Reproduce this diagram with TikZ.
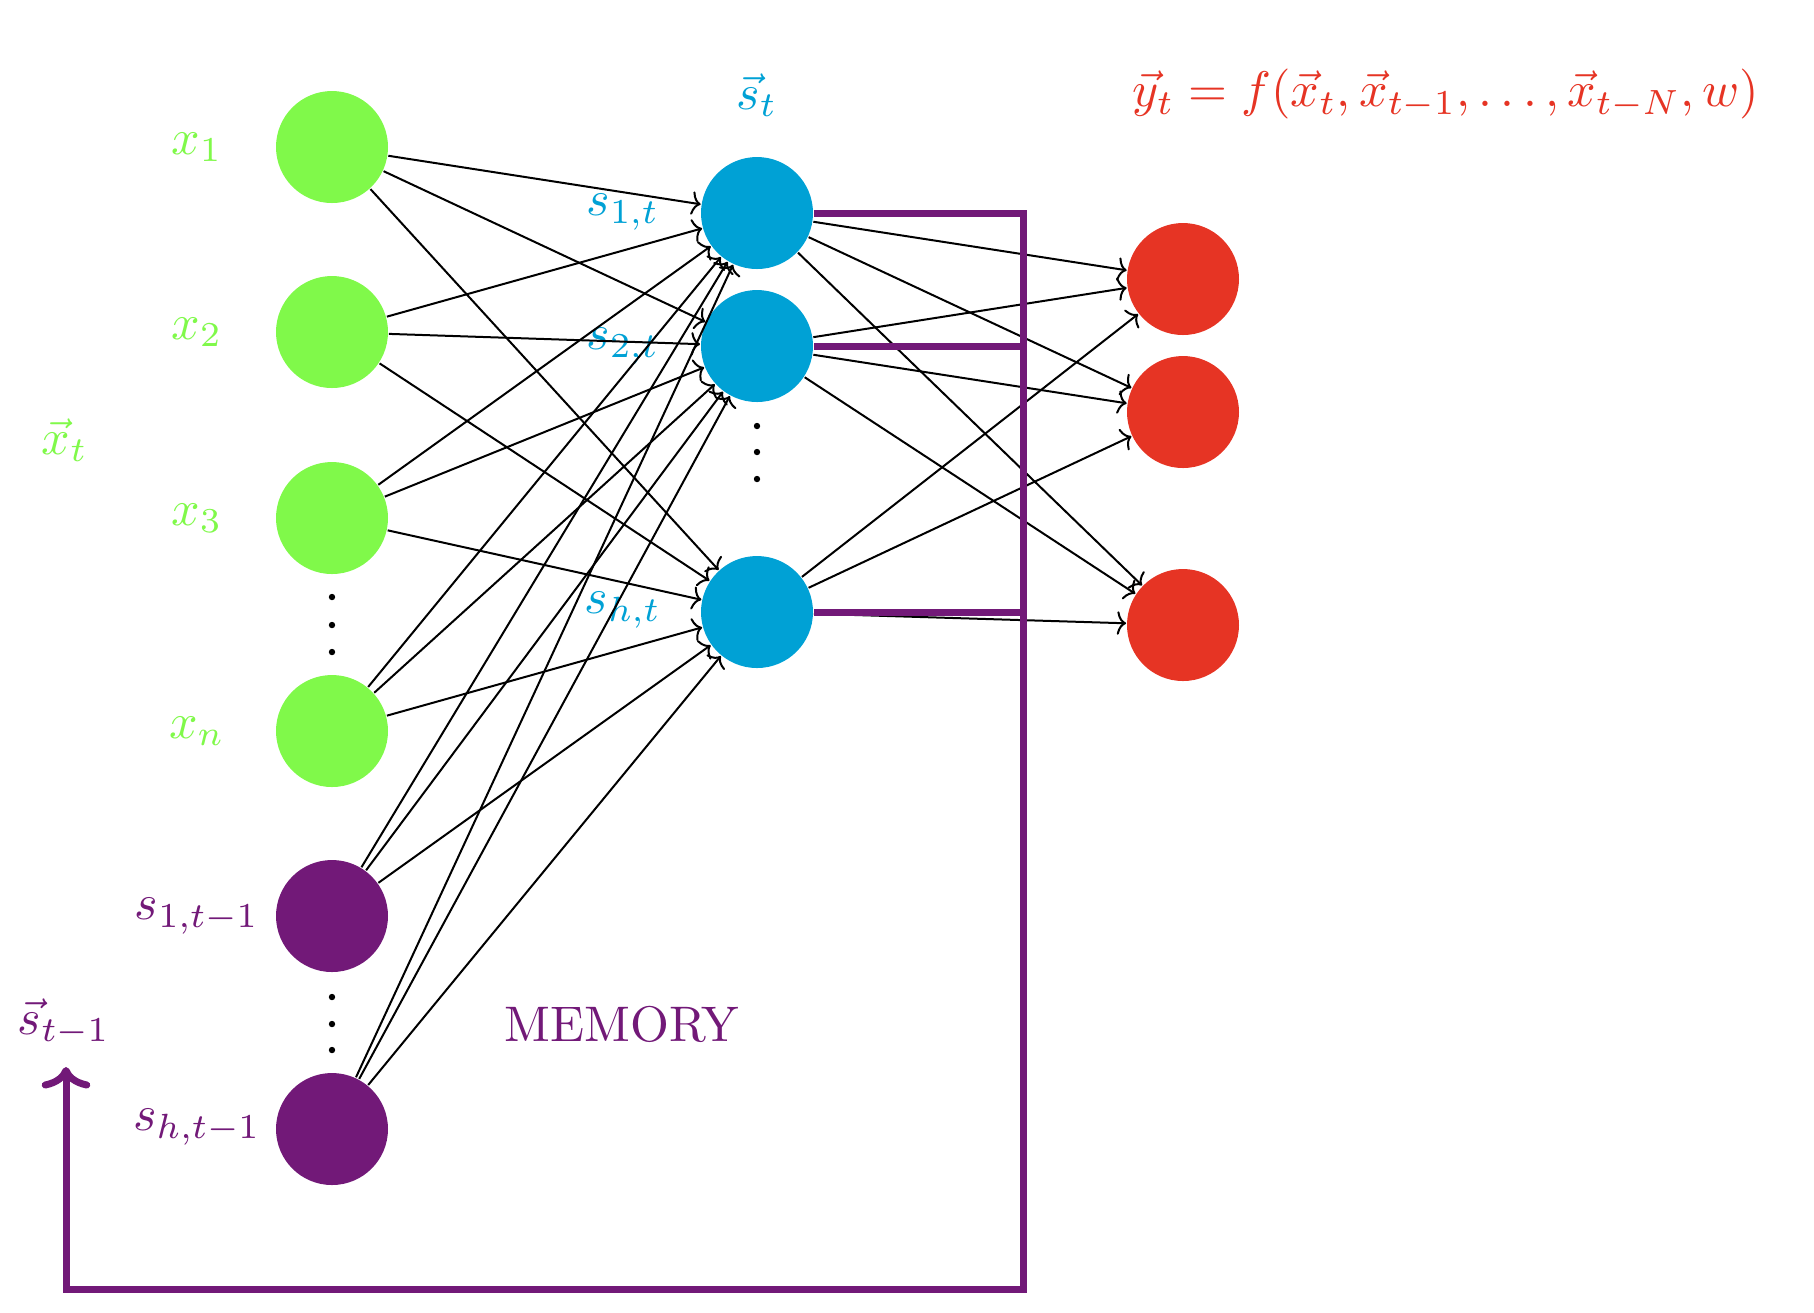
\documentclass[tikz,border=0pt]{standalone}
\usetikzlibrary{arrows.meta}
\definecolor{ingreen}{RGB}{128,249,74}
\definecolor{hidblue}{RGB}{0,161,213}
\definecolor{outred}{RGB}{230,52,36}
\definecolor{mempurple}{RGB}{114,25,120}
\begin{document}
\begin{tikzpicture}[x=0.2pt,y=-0.2pt,
  neuron/.style={circle,minimum size=22.4pt,inner sep=0pt,draw=none},
  inp/.style={neuron,fill=ingreen},
  hid/.style={neuron,fill=hidblue},
  outn/.style={neuron,fill=outred},
  memn/.style={neuron,fill=mempurple},
  conn/.style={-{Computer Modern Rightarrow[length=1.8pt,width=4.7pt]},line width=0.4pt,black},
  loopline/.style={line width=1.4pt,mempurple},
  lab/.style={inner sep=0pt}
]
\useasboundingbox (0,0) rectangle (1814,1312);

% neurons
\node[inp] (x1) at (332,147) {};
\node[inp] (x2) at (332,332) {};
\node[inp] (x3) at (332,518) {};
\node[inp] (xn) at (332,731) {};
\node[memn] (m1) at (332,916) {};
\node[memn] (mh) at (332,1129) {};
\node[hid] (s1) at (757,213) {};
\node[hid] (s2) at (757,346) {};
\node[hid] (sh) at (757,612) {};
\node[outn] (y1) at (1183,279) {};
\node[outn] (y2) at (1183,412) {};
\node[outn] (y3) at (1183,625) {};

% dots
\foreach \yy in {597,625,652} \fill (332,\yy) circle[radius=3.2];
\foreach \yy in {997,1024,1050} \fill (332,\yy) circle[radius=3.2];
\foreach \yy in {426,452,479} \fill (757,\yy) circle[radius=3.2];

% labels
\node[lab,text=ingreen] (lx1) at (197,147) {$x_1$};
\node[lab,text=ingreen] (lx2) at (197,332) {$x_2$};
\node[lab,text=ingreen] (lx3) at (197,518) {$x_3$};
\node[lab,text=ingreen] (lxn) at (197,731) {$x_n$};
\node[lab,text=ingreen] (lxt) at (65,440) {$\vec{x}_t$};
\node[lab,text=mempurple] (lm1) at (197,916) {$s_{1,t-1}$};
\node[lab,text=mempurple] (lmh) at (197,1127) {$s_{h,t-1}$};
\node[lab,text=mempurple] (lst1) at (64,1022) {$\vec{s}_{t-1}$};
\node[lab,text=hidblue] (lst) at (757,95) {$\vec{s}_t$};
\node[lab,text=hidblue] (ls1) at (623,212) {$s_{1,t}$};
\node[lab,text=hidblue] (ls2) at (623,346) {$s_{2,t}$};
\node[lab,text=hidblue] (lsh) at (623,610) {$s_{h,t}$};
\node[lab,text=mempurple] (lmem) at (622,1024) {MEMORY};
\node[lab,text=outred] (formula) at (1446,94) {$\vec{y}_t = f(\vec{x}_t, \vec{x}_{t-1}, \ldots, \vec{x}_{t-N}, w)$};

% connections
\foreach \a in {x1,x2,x3,xn,m1,mh}
  \foreach \b in {s1,s2,sh}
    \draw[conn] (\a) -- (\b);
\foreach \a in {s1,s2,sh}
  \foreach \b in {y1,y2,y3}
    \draw[conn] (\a) -- (\b);

% memory loop
\coordinate (j1) at (1023,213);
\coordinate (j2) at (1023,346);
\coordinate (j3) at (1023,612);
\coordinate (c1) at (1023,1289);
\coordinate (c2) at (66,1289);
\coordinate (tip) at (66,1067);
\draw[loopline] (s2.east) -- (j2);
\draw[loopline] (sh.east) -- (j3);
\draw[loopline,-{Computer Modern Rightarrow[length=4.3pt,width=9.7pt]}] (s1.east) -- (j1) -- (c1) -- (c2) -- (tip);
\end{tikzpicture}
\end{document}
